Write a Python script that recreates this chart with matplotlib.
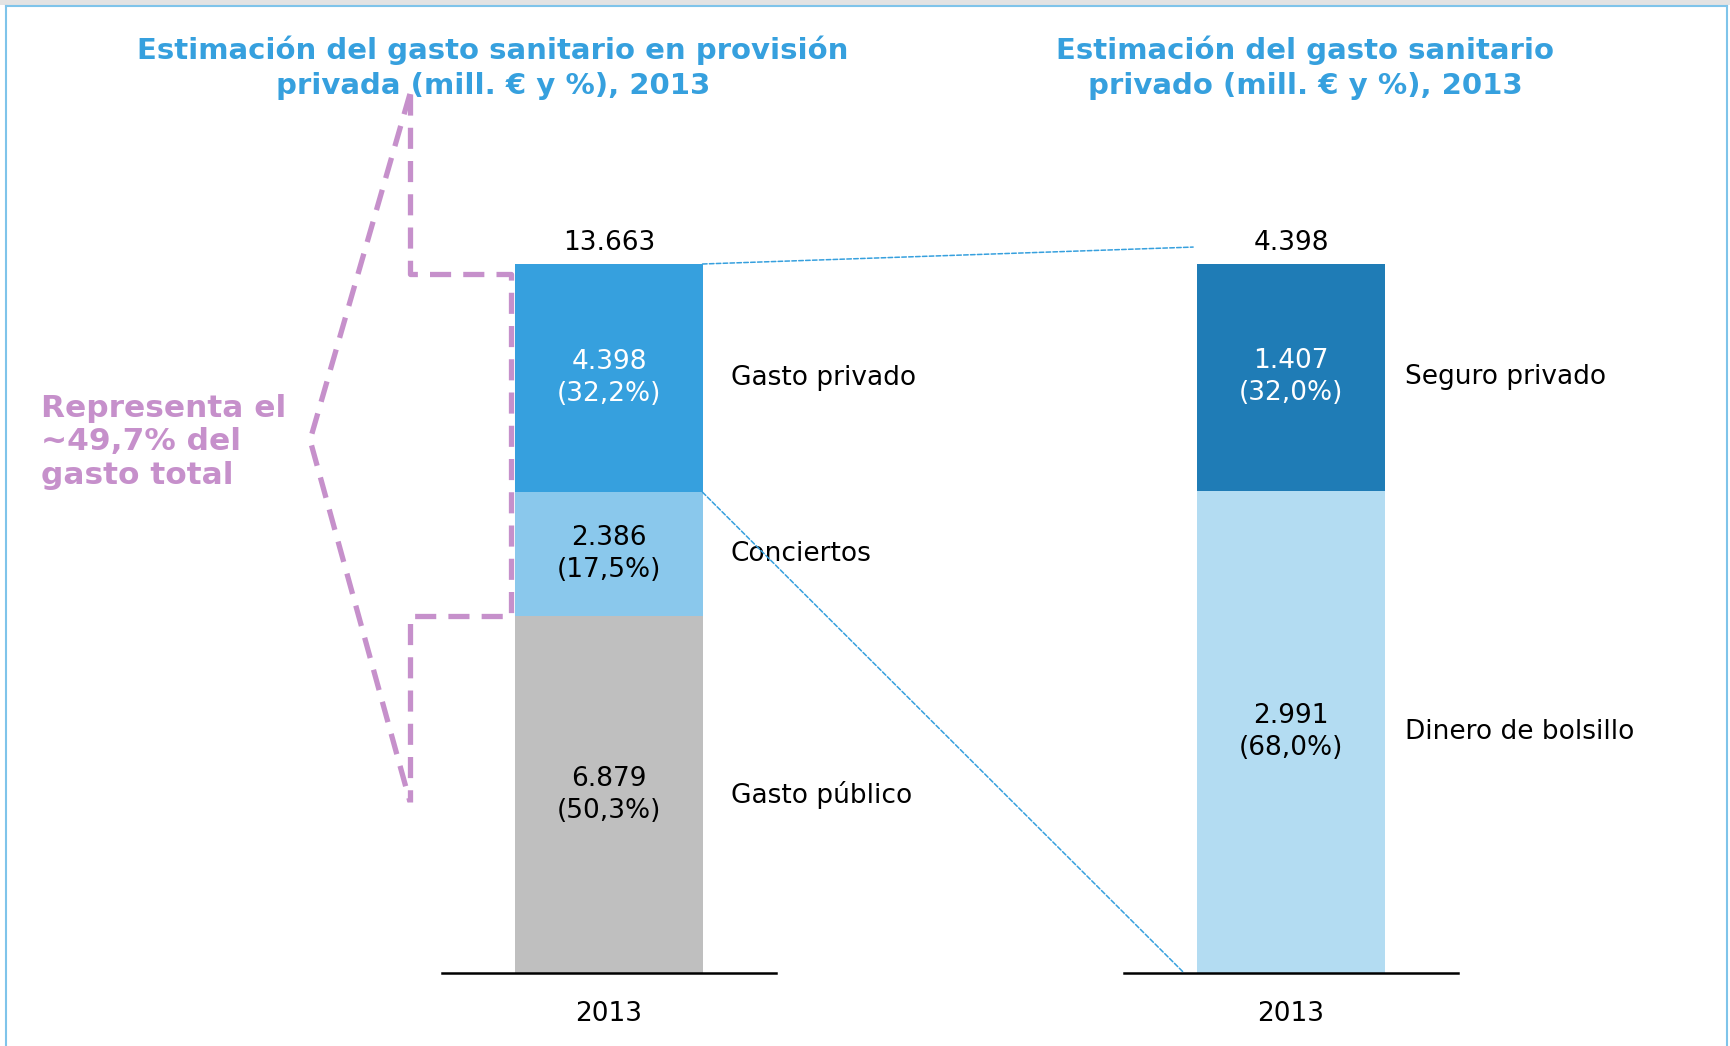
import matplotlib
matplotlib.use("Agg")
import matplotlib.pyplot as plt
from matplotlib.patches import ConnectionPatch, Rectangle
from matplotlib.lines import Line2D

# ----------------------------
# Data (mill. EUR, 2013)
# ----------------------------
left_categories = ["Gasto público", "Conciertos", "Gasto privado"]
left_values = [6879, 2386, 4398]
right_categories = ["Dinero de bolsillo", "Seguro privado"]
right_values = [2991, 1407]
year_label = "2013"

left_title = "Estimación del gasto sanitario en provisión\nprivada (mill. € y %), 2013"
right_title = "Estimación del gasto sanitario\nprivado (mill. € y %), 2013"
note_text = "Representa el\n~49,7% del\ngasto total"

# ----------------------------
# Style
# ----------------------------
left_colors = ["#BFBFBF", "#8AC8EC", "#36A0DE"]
left_text_colors = ["black", "black", "white"]
right_colors = ["#B3DCF2", "#1F7CB6"]
right_text_colors = ["black", "white"]
TITLE_COLOR = "#36A0DE"
PURPLE = "#C690CB"
FS = 19
W, H = 1730, 1046
BAR_W = 0.56

plt.rcParams["font.family"] = ["DejaVu Sans"]


def fmt_num(v):
    return f"{v:,}".replace(",", ".")


def fmt_pct(v, total):
    return f"({v / total * 100:.1f}%)".replace(".", ",")


def draw_stack(ax, cats, vals, colors, tcolors, label_dx):
    total = sum(vals)
    bottom = 0
    for cat, v, c, tc in zip(cats, vals, colors, tcolors):
        ax.bar(0, v, bottom=bottom, width=BAR_W, color=c, linewidth=0)
        mid = bottom + v / 2
        ax.text(0, mid, f"{fmt_num(v)}\n{fmt_pct(v, total)}", ha="center",
                va="center", color=tc, fontsize=FS, linespacing=1.3)
        ax.text(BAR_W / 2 + label_dx, mid, cat, ha="left", va="center",
                fontsize=FS, clip_on=False)
        bottom += v
    ax.annotate(fmt_num(total), (0, total), xytext=(0, 15),
                textcoords="offset points", ha="center", va="center",
                fontsize=FS, annotation_clip=False)
    ax.set_xlim(-0.5, 0.5)
    ax.set_ylim(0, total)
    ax.set_xticks([0])
    ax.set_xticklabels([year_label], fontsize=FS)
    ax.tick_params(axis="x", length=0, pad=20)
    ax.set_yticks([])
    for s in ("top", "left", "right"):
        ax.spines[s].set_visible(False)
    ax.spines["bottom"].set_linewidth(1.8)
    ax.patch.set_alpha(0)
    return total


fig = plt.figure(figsize=(W / 100, H / 100), dpi=100)

ax_h = 709 / H
ax_b = 1 - 973 / H
ax1 = fig.add_axes([442 / W, ax_b, 334 / W, ax_h])
ax2 = fig.add_axes([1124 / W, ax_b, 334 / W, ax_h])

total_left = draw_stack(ax1, left_categories, left_values, left_colors,
                        left_text_colors, 0.085)
total_right = draw_stack(ax2, right_categories, right_values, right_colors,
                         right_text_colors, 0.06)

# titles
fig.text(493 / W, 1 - 68 / H, left_title, ha="center", va="center",
         fontsize=21, fontweight="bold", color=TITLE_COLOR, linespacing=1.3)
fig.text(1305 / W, 1 - 68 / H, right_title, ha="center", va="center",
         fontsize=21, fontweight="bold", color=TITLE_COLOR, linespacing=1.3)

# purple note
fig.text(41 / W, 1 - 442 / H, note_text, ha="left", va="center",
         fontsize=22.5, fontweight="bold", color=PURPLE, linespacing=1.2)

# purple dashed bracket (left axes data coords)
y_top = total_left * 0.986
y_low = left_values[0]
y_hi, y_apex, y_bot = 16940, 10270, 3300
x_in, x_out, x_apex = -0.293, -0.596, -0.895
dash_kw = dict(color=PURPLE, lw=3.8, dashes=(4, 2.3), clip_on=False)
ax1.plot([x_out, x_out, x_in, x_in, x_out, x_out],
         [y_hi, y_top, y_top, y_low, y_low, y_bot], **dash_kw)
ax1.plot([x_out, x_apex, x_out], [y_hi, y_apex, y_bot], **dash_kw)

# blue dotted connectors between the two charts
for xyA, xyB in [((BAR_W / 2, total_left), (-0.293, 4503)),
                 ((BAR_W / 2, left_values[0] + left_values[1]), (-0.32, 0))]:
    con = ConnectionPatch(xyA=xyA, coordsA=ax1.transData, xyB=xyB,
                          coordsB=ax2.transData, color=TITLE_COLOR, lw=1.1,
                          linestyle=(0, (3, 1.5)))
    fig.add_artist(con)

# frame around the figure
fig.add_artist(Rectangle((0, 1 - 5 / H), 1, 5 / H, transform=fig.transFigure,
                         color="#E3E3E3", lw=0))
frame_kw = dict(color="#7FC4EA", lw=1.5, transform=fig.transFigure)
fig.add_artist(Line2D([6 / W, 1727 / W], [1 - 6 / H, 1 - 6 / H], **frame_kw))
fig.add_artist(Line2D([6 / W, 6 / W], [0, 1 - 6 / H], **frame_kw))
fig.add_artist(Line2D([1727 / W, 1727 / W], [0, 1 - 6 / H], **frame_kw))

fig.savefig("out.png", dpi=100)
